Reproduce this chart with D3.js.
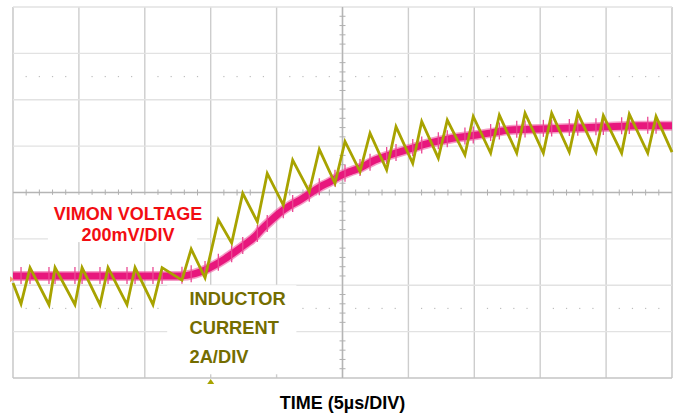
<!DOCTYPE html>
<html>
<head>
<meta charset="utf-8">
<script src="https://cdn.jsdelivr.net/npm/d3@7"></script>
<style>
  html, body { margin: 0; padding: 0; background: #fff; }
  svg { display: block; font-family: "Liberation Sans", Arial, sans-serif; }
</style>
</head>
<body>
<svg id="chart" width="675" height="413"></svg>
<script>
// ---- Data (time in µs, 5 µs/div; amplitudes in screen divisions) ----
const timeTicks = [0, 5, 10, 15, 20, 25, 30, 35, 40, 45, 50];
const divTicks = [-4, -3, -2, -1, 0, 1, 2, 3, 4];

// Inductor current (2 A/div) – sawtooth vertices
const currentTime = [0, 0.61, 1.29, 2.73, 3.19, 4.70, 5.24, 6.60, 7.21, 8.65, 9.26, 10.62, 11.31,
  12.82, 13.52, 14.57, 15.58, 16.59, 17.43, 18.54, 19.29, 20.51, 21.22, 22.48, 23.24, 24.43,
  25.19, 26.33, 27.09, 28.35, 29.06, 30.33, 31.01, 32.27, 32.95, 34.29, 34.92, 36.24, 36.90,
  38.22, 38.85, 40.24, 40.87, 42.21, 42.85, 44.23, 44.79, 46.18, 46.76, 48.16, 48.79, 50.0];
const currentDiv = [-1.95, -2.40, -1.62, -2.42, -1.62, -2.42, -1.62, -2.42, -1.62, -2.42, -1.62, -2.42, -1.62,
  -1.89, -1.22, -1.84, -0.59, -1.09, -0.02, -0.63, 0.41, -0.27, 0.70, 0.02, 0.93, 0.20,
  1.10, 0.45, 1.28, 0.49, 1.42, 0.63, 1.53, 0.74, 1.56, 0.81, 1.64, 0.85, 1.67,
  0.85, 1.71, 0.85, 1.71, 0.87, 1.71, 0.87, 1.66, 0.85, 1.69, 0.85, 1.64, 0.87];

// VIMON voltage (200 mV/div) – centre of the trace
const voltageTime = [0, 6.60, 12.67, 13.81, 14.57, 15.33, 16.08, 16.84, 17.60, 18.36, 18.74, 19.50,
  20.26, 21.02, 21.78, 22.53, 23.29, 24.05, 24.81, 25.57, 26.33, 27.47, 28.60, 30.12, 31.64,
  33.16, 34.67, 36.19, 37.71, 39.98, 42.26, 44.54, 47.57, 50.0];
const voltageDiv = [-1.80, -1.80, -1.80, -1.75, -1.67, -1.56, -1.43, -1.28, -1.12, -0.95, -0.83, -0.62,
  -0.43, -0.28, -0.16, -0.02, 0.12, 0.23, 0.36, 0.45, 0.53, 0.70, 0.81, 0.94, 1.07,
  1.16, 1.22, 1.28, 1.35, 1.37, 1.39, 1.41, 1.44, 1.44];

const voltageLabel = ["VIMON VOLTAGE", "200mV/DIV"];
const currentLabel = ["INDUCTOR", "CURRENT", "2A/DIV"];
const xTitle = "TIME (5µs/DIV)";

// ---- Layout ----
const svg = d3.select("#chart");
const x = d3.scaleLinear().domain([0, 50]).range([13, 672]);
const y = d3.scaleLinear().domain([-4, 4]).range([378, 7]);

const gridV = "#cdcdcd", gridH = "#e2e2e2";
const cPink = "#e8177d", cOlive = "#a8a300", cOliveText = "#746d00", cRed = "#f20d12";

// Vertical grid lines
svg.append("g").selectAll("line").data(timeTicks).join("line")
  .attr("x1", d => x(d)).attr("x2", d => x(d))
  .attr("y1", y(4)).attr("y2", y(-4))
  .attr("stroke", (d, i) => (i === 0 || i === timeTicks.length - 1) ? "#c4c4c4" : gridV)
  .attr("stroke-width", 1.4);
// Horizontal grid lines
svg.append("g").selectAll("line").data(divTicks).join("line")
  .attr("x1", x(0)).attr("x2", x(50))
  .attr("y1", d => y(d)).attr("y2", d => y(d))
  .attr("stroke", d => (d === -4) ? "#c4c4c4" : (d === 0 ? "#b5b5b5" : gridH))
  .attr("stroke-width", 1.4);
// Centre vertical axis darker
svg.append("line").attr("x1", x(25)).attr("x2", x(25)).attr("y1", y(4)).attr("y2", y(-4))
  .attr("stroke", "#b5b5b5").attr("stroke-width", 1.4);

// Minor ticks on centre axes
const minorX = d3.range(0, 50.01, 1).filter(t => t % 5 !== 0);
const minorY = d3.range(-4, 4.01, 0.2).map(v => +v.toFixed(1)).filter(v => Math.abs(v - Math.round(v)) > 0.01);
svg.append("g").selectAll("line").data(minorX).join("line")
  .attr("x1", d => x(d)).attr("x2", d => x(d))
  .attr("y1", y(0) - 3).attr("y2", y(0) + 3)
  .attr("stroke", "#b0b0b0").attr("stroke-width", 1);
svg.append("g").selectAll("line").data(minorY).join("line")
  .attr("x1", x(25) - 3).attr("x2", x(25) + 3)
  .attr("y1", d => y(d)).attr("y2", d => y(d))
  .attr("stroke", "#b0b0b0").attr("stroke-width", 1);
// Dotted marker rows at ±2.5 div
[2.5, -2.5].forEach(lv => {
  svg.append("g").selectAll("rect").data(minorX).join("rect")
    .attr("x", d => x(d) - 0.6).attr("y", y(lv) - 0.6)
    .attr("width", 1.2).attr("height", 1.2).attr("fill", "#bdbdbd");
});

// White label boxes (hide grid)
svg.append("rect").attr("x", x(2.65)).attr("y", y(-0.05)).attr("width", x(13.97) - x(2.65)).attr("height", y(-1.07) - y(-0.05)).attr("fill", "#fff");
svg.append("rect").attr("x", x(11.7)).attr("y", y(-2.0)).attr("width", x(21.5) - x(11.7)).attr("height", y(-3.92) - y(-2.0)).attr("fill", "#fff");

// Voltage trace (thick, noisy scope band)
const vLine = d3.line().x(d => x(d[0])).y(d => y(d[1])).curve(d3.curveMonotoneX);
const vPts = voltageTime.map((t, i) => [t, voltageDiv[i]]);
const vAt = t => {
  const i = Math.max(1, d3.bisectLeft(voltageTime, t));
  const t0 = voltageTime[i - 1], t1 = voltageTime[i];
  return d3.interpolateNumber(voltageDiv[i - 1], voltageDiv[i])((t - t0) / (t1 - t0));
};
svg.append("path").attr("d", vLine(vPts)).attr("fill", "none")
  .attr("stroke", "#ef5aa0").attr("stroke-width", 10).attr("stroke-linejoin", "round").attr("opacity", 0.6);
svg.append("path").attr("d", vLine(vPts)).attr("fill", "none")
  .attr("stroke", cPink).attr("stroke-width", 7).attr("stroke-linejoin", "round");
// switching spikes on the voltage at current-slope transitions
const spikeTimes = currentTime.filter((t, i) => i > 0 && i < currentTime.length - 1);
svg.append("g").selectAll("line").data(spikeTimes).join("line")
  .attr("x1", d => x(d)).attr("x2", d => x(d))
  .attr("y1", d => y(vAt(d)) - 9).attr("y2", d => y(vAt(d)) + 8)
  .attr("stroke", "#ea4a94").attr("stroke-width", 1.3);

// Inductor current trace
const cLine = d3.line().x(d => x(d[0])).y(d => y(d[1]));
svg.append("path").attr("d", cLine(currentTime.map((t, i) => [t, currentDiv[i]])))
  .attr("fill", "none").attr("stroke", cOlive).attr("stroke-width", 2.8).attr("stroke-linejoin", "miter");

// Channel / trigger markers
svg.append("path").attr("d", `M${x(0) - 3},${y(-1.87) - 3}L${x(0) + 1},${y(-1.87)}L${x(0) - 3},${y(-1.87) + 3}Z`).attr("fill", "#f0a070");
svg.append("path").attr("d", `M${x(15) - 3.5},${y(-4) + 6}L${x(15)},${y(-4) + 1}L${x(15) + 3.5},${y(-4) + 6}Z`).attr("fill", cOlive);

// Labels
svg.append("g").selectAll("text").data(voltageLabel).join("text")
  .attr("x", 128).attr("y", (d, i) => 220 + i * 20.5)
  .attr("text-anchor", "middle").attr("font-size", 18).attr("font-weight", "bold")
  .attr("fill", cRed).text(d => d);
svg.append("g").selectAll("text").data(currentLabel).join("text")
  .attr("x", 189.5).attr("y", (d, i) => 305 + i * 29.2)
  .attr("font-size", 18.3).attr("font-weight", "bold")
  .attr("fill", cOliveText).text(d => d);
svg.append("text").attr("x", x(25)).attr("y", 408.5)
  .attr("text-anchor", "middle").attr("font-size", 18).attr("font-weight", "bold")
  .attr("fill", "#000").text(xTitle);
</script>
</body>
</html>
